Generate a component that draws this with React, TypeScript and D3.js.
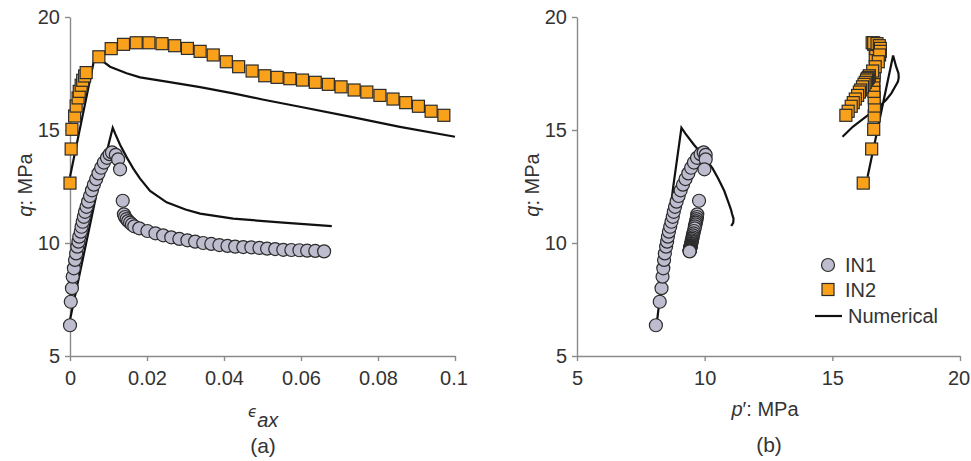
import { useEffect, useRef } from 'react'
import * as d3 from 'd3'

// IN1 test points: axial strain, deviator stress q, mean effective stress p'
const in1Eps = [
  0, 0.0002, 0.0005, 0.0007, 0.001, 0.0013, 0.0016, 0.0019, 0.0022, 0.0024, 0.0028, 0.003, 0.0033,
  0.0036, 0.0039, 0.0043, 0.0047, 0.0052, 0.0057, 0.0062, 0.0068, 0.0074, 0.0081, 0.0088, 0.0096,
  0.0103, 0.0109, 0.0119, 0.0125, 0.013, 0.0137, 0.014, 0.0143, 0.0147, 0.0151, 0.0156, 0.0161,
  0.0167, 0.018, 0.0201, 0.0222, 0.0242, 0.0263, 0.0284, 0.0305, 0.0325, 0.0346, 0.0367, 0.0388,
  0.0409, 0.0429, 0.045, 0.0471, 0.0492, 0.0512, 0.0533, 0.0554, 0.0575, 0.0596, 0.0616, 0.0637,
  0.066,
]
const in1Q = [
  6.36, 7.4, 8.0, 8.51, 8.88, 9.25, 9.54, 9.84, 10.06, 10.28, 10.5, 10.72, 10.94, 11.16, 11.38, 11.6,
  11.83, 12.08, 12.33, 12.58, 12.83, 13.08, 13.33, 13.56, 13.77, 13.93, 14.01, 13.9, 13.7, 13.26,
  11.87, 11.27, 11.15, 11.06, 10.97, 10.9, 10.82, 10.74, 10.65, 10.53, 10.43, 10.34, 10.25, 10.18,
  10.12, 10.06, 10.0, 9.96, 9.91, 9.87, 9.84, 9.82, 9.81, 9.78, 9.75, 9.73, 9.7, 9.69, 9.68, 9.66,
  9.65, 9.63,
]
const in1P = [
  8.09, 8.24, 8.31, 8.35, 8.38, 8.41, 8.44, 8.49, 8.53, 8.56, 8.6, 8.65, 8.7, 8.75, 8.79, 8.84, 8.9,
  8.98, 9.06, 9.15, 9.25, 9.36, 9.47, 9.58, 9.7, 9.84, 9.96, 10.04, 10.04, 9.99, 9.78, 9.71, 9.7,
  9.68, 9.67, 9.65, 9.64, 9.62, 9.61, 9.58, 9.56, 9.54, 9.53, 9.51, 9.5, 9.49, 9.48, 9.47, 9.46,
  9.45, 9.45, 9.44, 9.44, 9.44, 9.43, 9.43, 9.42, 9.42, 9.42, 9.41, 9.41, 9.41,
]

// IN2 test points
const in2Eps = [
  0, 0.0003, 0.0005, 0.0012, 0.0016, 0.0021, 0.0024, 0.0029, 0.0033, 0.0038, 0.0042, 0.0075, 0.0107,
  0.0139, 0.0172, 0.0205, 0.0239, 0.0272, 0.0305, 0.0338, 0.0372, 0.0406, 0.0438, 0.0473, 0.0506,
  0.0538, 0.0571, 0.0604, 0.0637, 0.0671, 0.0704, 0.0738, 0.0771, 0.0805, 0.0839, 0.0872, 0.0905,
  0.0938, 0.0971,
]
const in2Q = [
  12.65, 14.16, 15.03, 15.62, 16.06, 16.42, 16.71, 16.98, 17.2, 17.39, 17.54, 18.24, 18.6, 18.79,
  18.86, 18.86, 18.82, 18.73, 18.61, 18.48, 18.32, 18.02, 17.8, 17.61, 17.4, 17.33, 17.27, 17.21,
  17.11, 17.02, 16.91, 16.77, 16.68, 16.53, 16.37, 16.21, 16.05, 15.83, 15.65,
]
const in2P = [
  16.21, 16.54, 16.62, 16.64, 16.65, 16.64, 16.63, 16.62, 16.62, 16.63, 16.64, 16.68, 16.7, 16.62,
  16.56, 16.62, 16.75, 16.84, 16.88, 16.88, 16.85, 16.8, 16.68, 16.58, 16.45, 16.41, 16.37, 16.34,
  16.29, 16.24, 16.18, 16.11, 16.06, 15.99, 15.9, 15.82, 15.74, 15.62, 15.53,
]

// Numerical predictions
const num1Eps = [0, 0.0072, 0.0111, 0.0117, 0.013, 0.0147, 0.0164, 0.0182, 0.0208, 0.0251, 0.03, 0.0338, 0.0424, 0.0554, 0.068]
const num1Q = [6.6, 12.42, 15.1, 14.85, 14.35, 13.8, 13.3, 12.85, 12.3, 11.8, 11.48, 11.3, 11.08, 10.9, 10.75]
const num1P = [8.14, 8.76, 9.09, 9.24, 9.58, 9.99, 10.31, 10.53, 10.77, 10.93, 11.03, 11.07, 11.13, 11.12, 11.04]

const num2Eps = [0, 0.0065, 0.0104, 0.0147, 0.0182, 0.0251, 0.0338, 0.0424, 0.05, 0.0597, 0.0727, 0.0857, 0.1]
const num2Q = [12.93, 18.3, 17.8, 17.51, 17.33, 17.14, 16.9, 16.62, 16.35, 16.03, 15.59, 15.14, 14.7]
const num2P = [16.38, 17.38, 17.5, 17.59, 17.6, 17.57, 17.45, 17.31, 17.12, 16.84, 16.32, 15.8, 15.4]

const epsTicks = [0, 0.02, 0.04, 0.06, 0.08, 0.1]
const pTicks = [5, 10, 15, 20]
const qTicks = [5, 10, 15, 20]

const FONT = '"Liberation Sans", Arial, sans-serif'
const CIRCLE_FILL = '#bdbdcf'
const SQUARE_FILL = '#f9a11b'
const MARK_STROKE = '#2b2b2b'
const AXIS_COLOR = '#8a8a8a'
const TEXT_COLOR = '#333'

export default function App() {
  const svgRef = useRef<SVGSVGElement>(null)

  useEffect(() => {
    document.body.style.margin = '0'
    const svg = d3.select(svgRef.current)
    svg.selectAll('*').remove()

    const top = 17
    const bottom = 356
    const yScale = d3.scaleLinear().domain([5, 20]).range([bottom, top])

    const xEps = d3.scaleLinear().domain([0, 0.1]).range([70, 455])
    const xP = d3.scaleLinear().domain([5, 20]).range([577, 960])

    const styleAxis = (g: any) => {
      g.select('.domain').attr('stroke', AXIS_COLOR).attr('stroke-width', 1.4)
      g.selectAll('.tick line').attr('stroke', AXIS_COLOR).attr('stroke-width', 1.4)
      g.selectAll('.tick text')
        .attr('fill', TEXT_COLOR)
        .style('font-size', '20px')
        .style('font-family', FONT)
    }

    const panel = (
      x: d3.ScaleLinear<number, number>,
      ticks: number[],
      fmt: (d: number) => string,
      pts1: [number, number][],
      pts2: [number, number][],
      line1: [number, number][],
      line2: [number, number][]
    ) => {
      const x0 = x.range()[0]
      const g = svg.append('g')

      const xAxis = g
        .append('g')
        .attr('transform', `translate(0,${bottom})`)
        .call(d3.axisBottom(x).tickValues(ticks).tickFormat(fmt as any).tickSize(5).tickSizeOuter(0).tickPadding(10))
        .call(styleAxis)
      // keep the last label inside the picture
      xAxis.selectAll('.tick:last-of-type text').attr('dx', -1.5)

      g.append('g')
        .attr('transform', `translate(${x0},0)`)
        .call(d3.axisLeft(yScale).tickValues(qTicks).tickSize(5).tickSizeOuter(0).tickPadding(5))
        .call(styleAxis)

      const line = d3
        .line<[number, number]>()
        .x((d) => x(d[0]))
        .y((d) => yScale(d[1]))

      ;[line1, line2].forEach((l) => {
        g.append('path')
          .attr('d', line(l))
          .attr('fill', 'none')
          .attr('stroke', '#111')
          .attr('stroke-width', 2.2)
          .attr('stroke-linejoin', 'miter')
      })

      g.selectAll('.in1')
        .data(pts1)
        .enter()
        .append('circle')
        .attr('cx', (d) => x(d[0]))
        .attr('cy', (d) => yScale(d[1]))
        .attr('r', 6.5)
        .attr('fill', CIRCLE_FILL)
        .attr('stroke', MARK_STROKE)
        .attr('stroke-width', 1.2)

      const s = 12
      g.selectAll('.in2')
        .data(pts2)
        .enter()
        .append('rect')
        .attr('x', (d) => x(d[0]) - s / 2)
        .attr('y', (d) => yScale(d[1]) - s / 2)
        .attr('width', s)
        .attr('height', s)
        .attr('fill', SQUARE_FILL)
        .attr('stroke', MARK_STROKE)
        .attr('stroke-width', 1.2)

      // y label
      const yl = g
        .append('text')
        .attr('transform', `translate(${x0 - 38},185) rotate(-90)`)
        .attr('text-anchor', 'middle')
        .attr('fill', TEXT_COLOR)
        .style('font-size', '20px')
        .style('font-family', FONT)
      yl.append('tspan').style('font-style', 'italic').text('q')
      yl.append('tspan').text(': MPa')
    }

    const zip = (a: number[], b: number[]) => a.map((v, i) => [v, b[i]] as [number, number])

    panel(
      xEps,
      epsTicks,
      (d) => (d === 0 ? '0' : String(d)),
      zip(in1Eps, in1Q),
      zip(in2Eps, in2Q),
      zip(num1Eps, num1Q),
      zip(num2Eps, num2Q)
    )
    panel(
      xP,
      pTicks,
      (d) => String(d),
      zip(in1P, in1Q),
      zip(in2P, in2Q),
      zip(num1P, num1Q),
      zip(num2P, num2Q)
    )

    const txt = (x: number, y: number, anchor = 'start', size = 20) =>
      svg
        .append('text')
        .attr('x', x)
        .attr('y', y)
        .attr('text-anchor', anchor)
        .attr('fill', TEXT_COLOR)
        .style('font-size', `${size}px`)
        .style('font-family', FONT)

    // x labels
    const el = txt(248, 417).style('font-style', 'italic')
    el.append('tspan')
      .style('font-size', '15px')
      .style('font-family', '"DejaVu Sans", sans-serif')
      .text('ϵ')
    el.append('tspan').attr('dy', 10).text('ax')
    txt(263, 453, 'middle', 21).text('(a)')

    const pl = txt(765, 416, 'middle')
    pl.append('tspan').style('font-style', 'italic').text('p')
    pl.append('tspan').text('′: MPa')
    txt(769, 452, 'middle', 21).text('(b)')

    // legend
    svg.append('circle')
      .attr('cx', 828).attr('cy', 265).attr('r', 6.5)
      .attr('fill', CIRCLE_FILL).attr('stroke', MARK_STROKE).attr('stroke-width', 1.2)
    txt(845, 272).text('IN1')
    svg.append('rect')
      .attr('x', 822).attr('y', 283.5).attr('width', 12).attr('height', 12)
      .attr('fill', SQUARE_FILL).attr('stroke', MARK_STROKE).attr('stroke-width', 1.2)
    txt(845, 296.5).text('IN2')
    svg.append('line')
      .attr('x1', 815).attr('x2', 842).attr('y1', 316).attr('y2', 316)
      .attr('stroke', '#111').attr('stroke-width', 2.2)
    txt(848, 322.5).text('Numerical')
  }, [])

  return <svg ref={svgRef} width={971} height={461} style={{ display: 'block', background: '#fff' }} />
}
